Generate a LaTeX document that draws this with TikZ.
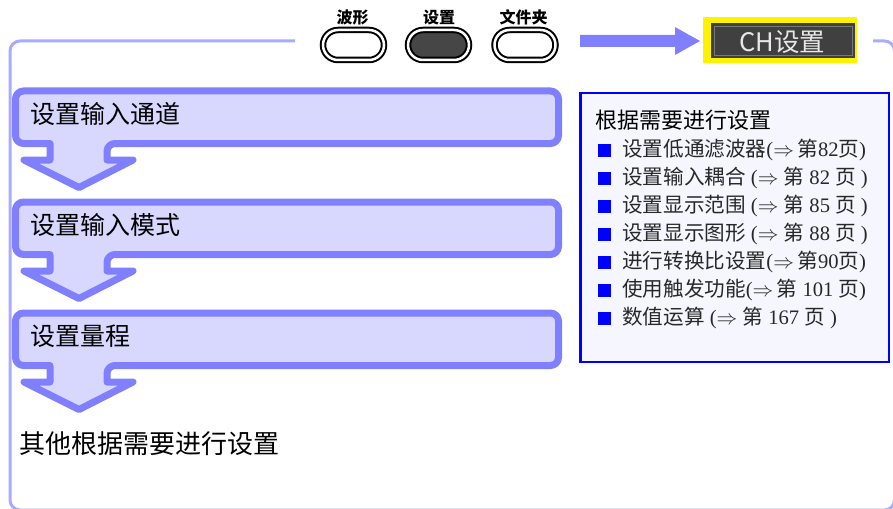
\documentclass[tikz,border=0pt]{standalone}
\usepackage{fontspec}
\setmainfont{Liberation Serif}
\newfontfamily\cjk{Noto Sans CJK SC}
\newcommand{\zh}[1]{{\cjk #1}}
\definecolor{framec}{RGB}{170,170,255}
\definecolor{stepline}{RGB}{128,128,255}
\definecolor{stepfill}{RGB}{216,216,255}
\definecolor{boxfill}{RGB}{246,246,255}
\definecolor{darkbtn}{RGB}{70,70,70}
\definecolor{lcd}{RGB}{64,64,64}
\definecolor{lcdedge}{RGB}{120,120,120}
\definecolor{lcdtext}{RGB}{232,232,232}
\definecolor{bullet}{RGB}{0,0,255}
\definecolor{itemtext}{RGB}{40,40,40}
\tikzset{
  framel/.style={draw=framec, line width=3pt},
  stepbox/.style={draw=stepline, fill=stepfill, line width=7pt, line join=round},
  steptext/.style={anchor=west, inner sep=0pt, font=\cjk\fontsize{25}{30}\selectfont},
  btn/.style={draw=black, double=white, double distance=2.5pt, line width=2pt,
    minimum width=61pt, minimum height=30pt, rounded corners=15pt, inner sep=0pt},
  btnlabel/.style={inner sep=0pt, font=\cjk\bfseries\fontsize{16}{18}\selectfont},
  sq/.style={fill=bullet, minimum size=13pt, inner sep=0pt},
  item/.style={anchor=west, inner sep=0pt, text=itemtext, font=\fontsize{20.6}{24}\selectfont},
}
\begin{document}
\begin{tikzpicture}[x=1pt,y=-1pt]
\useasboundingbox (0,0) rectangle (893,508);

% outer frame
\draw[framel, rounded corners=10pt] (295,41) -- (10,41) -- (10,510) -- (894.5,510) -- (894.5,41) -- (873,41);

% buttons
\node[btn, fill=white] (b1) at (353.5,45) {};
\node[btn, fill=darkbtn] (b2) at (438.5,45) {};
\node[btn, fill=white] (b3) at (525,45) {};
\node[btnlabel] (l1) at (352.5,17) {波形};
\node[btnlabel] (l2) at (439,17) {设置};
\node[btnlabel] (l3) at (523.5,17) {文件夹};

% CH box
\node[fill=yellow, minimum width=154pt, minimum height=46pt, inner sep=0pt] (ch) at (780,40) {};
\node[fill=lcd, minimum width=144pt, minimum height=35pt, inner sep=0pt] (chin) at (783,40.5) {};
\node[draw=lcdedge, line width=1.2pt, minimum width=138pt, minimum height=29pt, inner sep=0pt] (chedge) at (783.5,41) {};
\node[text=lcdtext, inner sep=0pt, font=\cjk\fontsize{25.5}{28}\selectfont] (chtext) at (782.5,42) {CH设置};

% block arrow to CH box
\fill[stepline] (580,35) -- (675,35) -- (675,27) -- (700,41) -- (675,55) -- (675,47) -- (580,47) -- cycle;

% step boxes with arrows
\foreach \T/\name/\txt in {91/s1/设置输入通道, 202/s2/设置输入模式, 313/s3/设置量程}{
  \pgfmathsetmacro{\B}{\T+52.5}
  \pgfmathsetmacro{\H}{\B+16.5}
  \pgfmathsetmacro{\P}{\B+44}
  \pgfmathsetmacro{\C}{(\T+\B)/2-3}
  \path[stepbox] (50,\B) [rounded corners=8pt] -- (15.5,\B) -- (15.5,\T) -- (558.5,\T) -- (558.5,\B) -- (107,\B) [sharp corners] -- (107,\H) -- (133,\H) -- (79,\P) -- (24,\H) -- (50,\H) -- cycle;
  \node[steptext] (\name) at (30,\C) {\txt};
}
\node[steptext, font=\cjk\fontsize{26}{30}\selectfont] (fin) at (19,444) {其他根据需要进行设置};

% right info box
\node[draw=bullet, fill=boxfill, line width=2.5pt, minimum width=308.5pt, minimum height=268.5pt, inner sep=0pt] (rb) at (734.5,227.5) {};
\node[anchor=west, inner sep=0pt, font=\cjk\fontsize{22}{26}\selectfont] (title) at (595.5,120) {根据需要进行设置};

\node[sq] (q1) at (604.5,150) {};
\node[sq] (q2) at (604.5,178) {};
\node[sq] (q3) at (604.5,206) {};
\node[sq] (q4) at (604.5,234) {};
\node[sq] (q5) at (604.5,262) {};
\node[sq] (q6) at (604.5,290) {};
\node[sq] (q7) at (604.5,318) {};

\node[item] (i1) at (622,150) {\zh{设置低通滤波器}($\Rightarrow$\,\zh{第}82\zh{页})};
\node[item] (i2) at (622,178) {\zh{设置输入耦合} ($\Rightarrow$ \zh{第} 82 \zh{页} )};
\node[item] (i3) at (622,206) {\zh{设置显示范围} ($\Rightarrow$ \zh{第} 85 \zh{页} )};
\node[item] (i4) at (622,234) {\zh{设置显示图形} ($\Rightarrow$ \zh{第} 88 \zh{页} )};
\node[item] (i5) at (622,262) {\zh{进行转换比设置}($\Rightarrow$\,\zh{第}90\zh{页})};
\node[item] (i6) at (622,290) {\zh{使用触发功能}($\Rightarrow$\,\zh{第} 101 \zh{页})};
\node[item] (i7) at (622,318) {\zh{数值运算} ($\Rightarrow$ \zh{第} 167 \zh{页} )};
\end{tikzpicture}
\end{document}
